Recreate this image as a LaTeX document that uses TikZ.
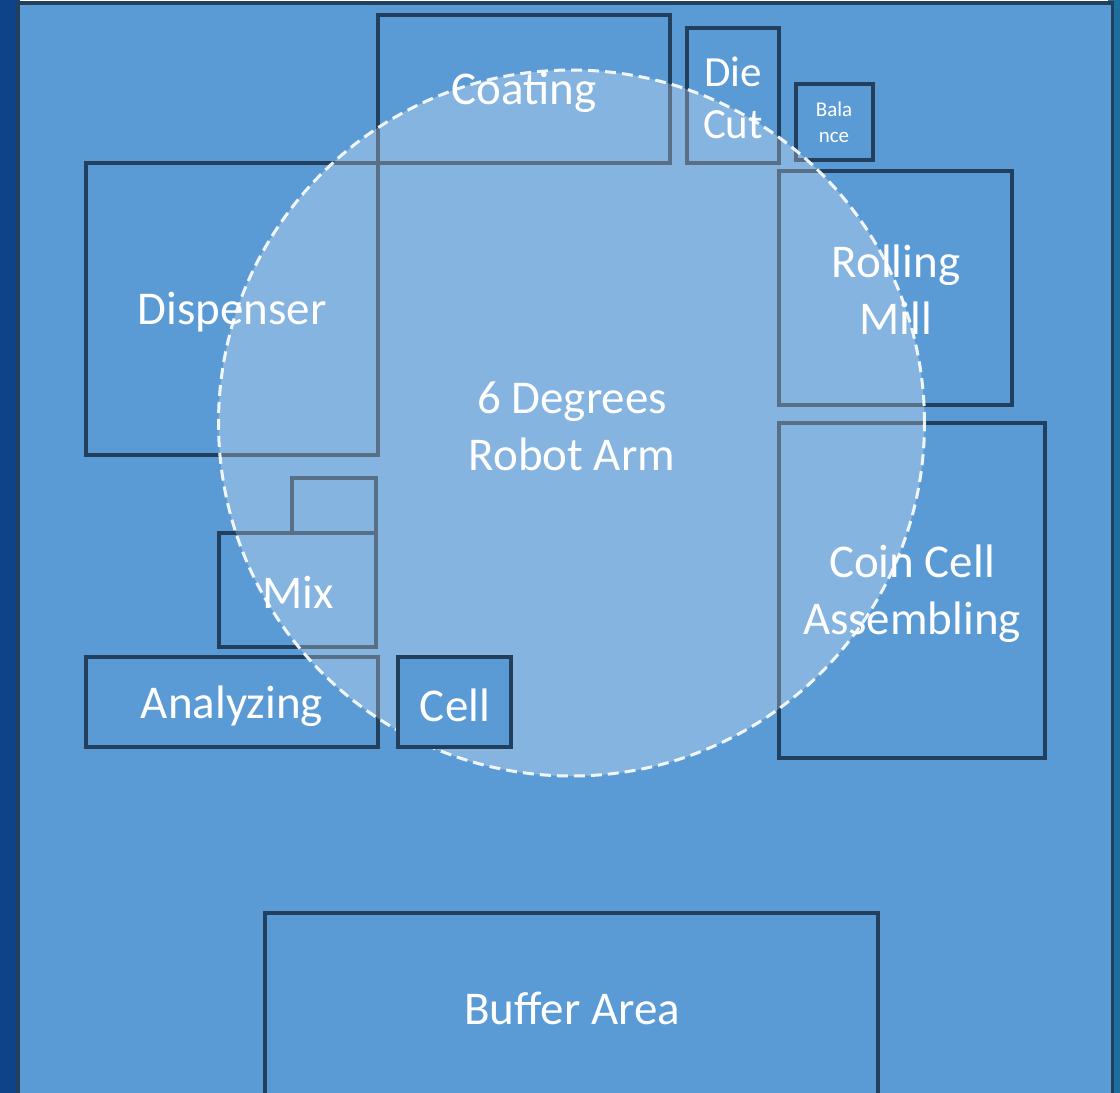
\documentclass[tikz,border=0pt]{standalone}
\usepackage{fontspec}
\setmainfont{Carlito}
\definecolor{bgblue}{HTML}{5B9BD5}
\definecolor{edge}{HTML}{223F5E}
\definecolor{leftside}{HTML}{0E4289}
\definecolor{rightside}{HTML}{1E6E9E}
\tikzset{
  box/.style={draw=edge, line width=3.5pt, rectangle, inner sep=0pt},
  lbl/.style={text=white, align=center, inner sep=0pt, font=\fontsize{47}{57}\selectfont},
}
\begin{document}
\begin{tikzpicture}[x=1pt,y=-1pt]
\useasboundingbox (0,0) rectangle (1120,1093);
\clip (0,0) rectangle (1120,1093);
\fill[leftside] (0,0) rectangle (20,1093);
\fill[rightside] (1108,0) rectangle (1120,1093);
\draw[edge, line width=3.5pt, fill=bgblue] (18,3) rectangle (1112.5,1110);
% boxes
\node[box, minimum width=292pt, minimum height=148pt] (coating) at (524,89) {};
\node[box, minimum width=92pt, minimum height=135pt] (diecut) at (733,95.5) {};
\node[box, minimum width=77pt, minimum height=76pt] (balance) at (834.5,122) {};
\node[box, minimum width=292pt, minimum height=292pt] (dispenser) at (232,309) {};
\node[box, minimum width=233pt, minimum height=234pt] (rolling) at (895.5,288) {};
\node[box, minimum width=266pt, minimum height=335pt] (coin) at (912,590.5) {};
\node[box, minimum width=84pt, minimum height=55pt] (small) at (334,505.5) {};
\node[box, minimum width=157pt, minimum height=114pt] (mix) at (297.5,590) {};
\node[box, minimum width=292pt, minimum height=90pt] (analyzing) at (232,702) {};
\node[box, minimum width=613pt, minimum height=197pt] (buffer) at (571.5,1011.5) {};
% robot reach circle
\node[circle, minimum size=706pt, inner sep=0pt, draw=white, line width=3pt,
      dash pattern=on 11pt off 6pt, fill=white, fill opacity=0.25, draw opacity=0.9] (reach) at (571.5,423) {};
% cell box sits above the circle
\node[box, fill=bgblue, minimum width=113pt, minimum height=90pt] (cell) at (454.5,702) {};
% labels
\node[lbl] (tcoating) at (524,92) {Coating};
\node[lbl, font=\fontsize{43}{52}\selectfont] (tdiecut) at (733,98) {Die\\Cut};
\node[lbl, font=\fontsize{21}{26}\selectfont] (tbalance) at (834,122) {Bala\\nce};
\node[lbl] (tdispenser) at (232,312) {Dispenser};
\node[lbl] (trolling) at (896,290) {Rolling\\Mill};
\node[lbl] (tcoin) at (912,594) {Coin Cell\\Assembling};
\node[lbl] (tmix) at (298,592) {Mix};
\node[lbl] (tanalyzing) at (232,706) {Analyzing};
\node[lbl] (tcell) at (455,705) {Cell};
\node[lbl] (trobot) at (572,426) {6 Degrees\\Robot Arm};
\node[lbl] (tbuffer) at (572,1008) {Buffer Area};
\end{tikzpicture}
\end{document}
